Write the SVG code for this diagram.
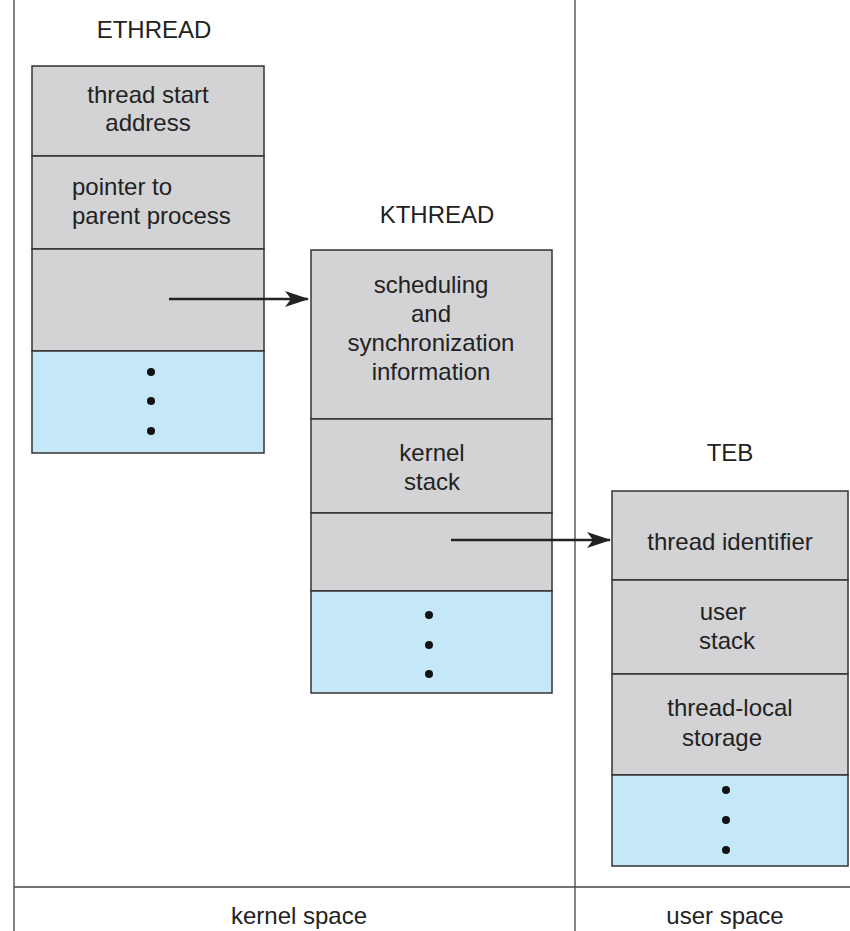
<svg xmlns="http://www.w3.org/2000/svg" width="850" height="931" viewBox="0 0 850 931">
<style>
text{font-family:"Liberation Sans",Arial,sans-serif;font-size:24px;fill:#222}
.c{text-anchor:middle}
.g{fill:#d3d3d5;stroke:#333;stroke-width:1.5}
.b{fill:#c5e8f8;stroke:#333;stroke-width:1.5}
.ln{stroke:#444;stroke-width:1.3;fill:none}
.ar{stroke:#222;stroke-width:2.5;fill:none}
</style>
<defs>
<marker id="ah" markerWidth="24" markerHeight="16" refX="23" refY="8" orient="auto" markerUnits="userSpaceOnUse">
<path d="M0,0 L24,8 L0,16 L6,8 Z" fill="#222"/>
</marker>
</defs>
<g id="frame">
<line class="ln" x1="14" y1="0" x2="14" y2="931"/>
<line class="ln" x1="575" y1="0" x2="575" y2="931"/>
<line class="ln" x1="14" y1="887" x2="850" y2="887"/>
<text class="c" x="299" y="924">kernel space</text>
<text class="c" x="725" y="924">user space</text>
</g>
<g id="ethread">
<text class="c" x="154" y="38">ETHREAD</text>
<rect class="g" x="32" y="66" width="232" height="90"/>
<rect class="g" x="32" y="156" width="232" height="93"/>
<rect class="g" x="32" y="249" width="232" height="102"/>
<rect class="b" x="32" y="351" width="232" height="102"/>
<text class="c" x="148" y="103">thread start</text>
<text class="c" x="148" y="131">address</text>
<text x="72" y="195">pointer to</text>
<text x="72" y="224">parent process</text>
<circle cx="151" cy="372" r="4" fill="#111"/>
<circle cx="151" cy="401" r="4" fill="#111"/>
<circle cx="151" cy="431" r="4" fill="#111"/>
</g>
<g id="kthread">
<text class="c" x="437" y="223">KTHREAD</text>
<rect class="g" x="311" y="250" width="241" height="169"/>
<rect class="g" x="311" y="419" width="241" height="94"/>
<rect class="g" x="311" y="513" width="241" height="78"/>
<rect class="b" x="311" y="591" width="241" height="102"/>
<text class="c" x="431" y="293">scheduling</text>
<text class="c" x="431" y="322">and</text>
<text class="c" x="431" y="351">synchronization</text>
<text class="c" x="431" y="380">information</text>
<text class="c" x="432" y="461">kernel</text>
<text class="c" x="432" y="490">stack</text>
<circle cx="429" cy="615" r="4" fill="#111"/>
<circle cx="429" cy="645" r="4" fill="#111"/>
<circle cx="429" cy="674" r="4" fill="#111"/>
</g>
<g id="teb">
<text class="c" x="730" y="461">TEB</text>
<rect class="g" x="612" y="491" width="236" height="89"/>
<rect class="g" x="612" y="580" width="236" height="94"/>
<rect class="g" x="612" y="674" width="236" height="101"/>
<rect class="b" x="612" y="775" width="236" height="91"/>
<text class="c" x="730" y="550">thread identifier</text>
<text class="c" x="723" y="620">user</text>
<text class="c" x="727" y="649">stack</text>
<text class="c" x="730" y="716">thread-local</text>
<text class="c" x="722" y="746">storage</text>
<circle cx="726" cy="790" r="4" fill="#111"/>
<circle cx="726" cy="820" r="4" fill="#111"/>
<circle cx="726" cy="850" r="4" fill="#111"/>
</g>
<g id="connectors">
<line class="ar" x1="169" y1="299" x2="308" y2="299" marker-end="url(#ah)"/>
<line class="ar" x1="451" y1="540" x2="610" y2="540" marker-end="url(#ah)"/>
</g>
</svg>
